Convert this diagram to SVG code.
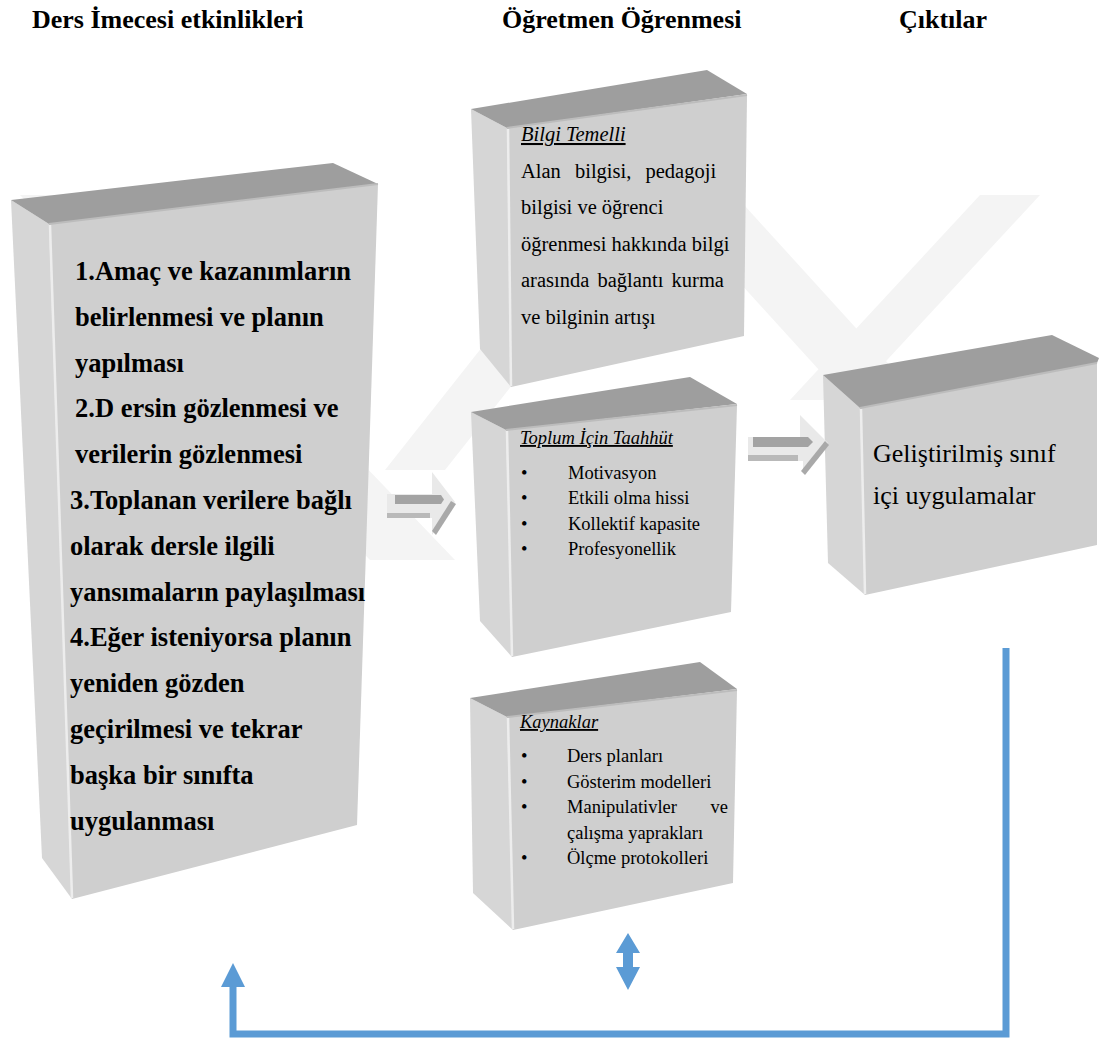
<svg xmlns="http://www.w3.org/2000/svg" width="1099" height="1041" viewBox="0 0 1099 1041">
<style>
.wm{fill:#f4f4f4}
.top{fill:#9e9e9e}
.side{fill:#d6d6d6}
.front{fill:#cfcfcf}
.hl{stroke:#ededed;stroke-width:2.5;fill:none}
.tl{stroke:#bcbcbc;stroke-width:2;fill:none}
.serif{font-family:"Liberation Serif","Times New Roman","DejaVu Serif",serif;fill:#000}
.hdr{font-weight:bold;font-size:26px}
.big{font-weight:bold;font-size:26.5px}
.t20{font-size:20.5px}
.t18{font-size:18.5px}
.t26{font-size:26px}
.ttl{font-style:italic;text-decoration:underline}
.conn{stroke:#5b9bd5;stroke-width:7;fill:none;stroke-linejoin:miter}
.blue{fill:#5b9bd5}
.ga{fill:#e9e9e9}
.gb1{fill:#a3a3a3}
.gb2{fill:#b9b9b9}
.gd{fill:#a9a9a9}
</style>
<rect width="1099" height="1041" fill="#ffffff"/>
<g id="watermark">
<polygon class="wm" points="20,195 105,195 455,560 370,560"/>
<polygon class="wm" points="385,470 445,470 690,160 630,160"/>
<polygon class="wm" points="660,195 735,195 985,470 910,470"/>
<polygon class="wm" points="790,400 850,400 1040,195 980,195"/>
</g>
<g id="headers" class="serif hdr">
<text x="32" y="28">Ders İmecesi etkinlikleri</text>
<text x="502" y="28">Öğretmen Öğrenmesi</text>
<text x="899" y="28">Çıktılar</text>
</g>
<g id="node-ders-imecesi">
<polygon class="side" points="11,200 49,224 72,899 42,858"/>
<polygon class="front" points="49,224 378,184 357,825 72,899"/>
<polygon class="top" points="11,200 333,163 378,184 49,224"/>
<polyline class="tl" points="49,224 378,184"/>
<line class="hl" x1="50" y1="225" x2="72" y2="898"/>
<g class="serif big">
<text x="75" y="280">1.Amaç ve kazanımların</text>
<text x="75" y="326">belirlenmesi ve planın</text>
<text x="75" y="372">yapılması</text>
<text x="75" y="417">2.D ersin gözlenmesi ve</text>
<text x="75" y="463">verilerin gözlenmesi</text>
<text x="70" y="509">3.Toplanan verilere bağlı</text>
<text x="70" y="555">olarak dersle ilgili</text>
<text x="70" y="601">yansımaların paylaşılması</text>
<text x="70" y="646">4.Eğer isteniyorsa planın</text>
<text x="70" y="692">yeniden gözden</text>
<text x="70" y="738">geçirilmesi ve tekrar</text>
<text x="70" y="784">başka bir sınıfta</text>
<text x="70" y="830">uygulanması</text>
</g>
</g>
<g id="node-bilgi-temelli">
<polygon class="side" points="471,109 507,128 511,387 480,349"/>
<polygon class="front" points="507,128 747,95 744,336 511,387"/>
<polygon class="top" points="471,109 707,70 747,94 507,128"/>
<polyline class="tl" points="507,128 747,95"/>
<line class="hl" x1="508" y1="129" x2="511" y2="386"/>
<g class="serif t20">
<text class="ttl" x="521" y="141">Bilgi Temelli</text>
<text x="521" y="177.5" word-spacing="9">Alan bilgisi, pedagoji</text>
<text x="521" y="214">bilgisi ve öğrenci</text>
<text x="521" y="250.5">öğrenmesi hakkında bilgi</text>
<text x="521" y="287" word-spacing="3">arasında bağlantı kurma</text>
<text x="521" y="323.5">ve bilginin artışı</text>
</g>
</g>
<g id="node-toplum">
<polygon class="side" points="471,412 506,430 512,657 480,621"/>
<polygon class="front" points="506,430 737,405 731,612 512,657"/>
<polygon class="top" points="471,412 690,377 737,404 506,430"/>
<polyline class="tl" points="506,430 737,405"/>
<line class="hl" x1="507" y1="431" x2="512" y2="656"/>
<g class="serif t18">
<text class="ttl" x="520" y="444">Toplum İçin Taahhüt</text>
<text x="521" y="479">•</text><text x="568" y="479">Motivasyon</text>
<text x="521" y="504">•</text><text x="568" y="504">Etkili olma hissi</text>
<text x="521" y="529.5">•</text><text x="568" y="529.5">Kollektif kapasite</text>
<text x="521" y="555">•</text><text x="568" y="555">Profesyonellik</text>
</g>
</g>
<g id="node-kaynaklar">
<polygon class="side" points="470,698 507,717 513,930 473,893"/>
<polygon class="front" points="507,717 737,690 733,883 513,930"/>
<polygon class="top" points="470,698 700,662 737,689 507,717"/>
<polyline class="tl" points="507,717 737,690"/>
<line class="hl" x1="508" y1="718" x2="513" y2="929"/>
<g class="serif t18">
<text class="ttl" x="520" y="728">Kaynaklar</text>
<text x="521" y="762">•</text><text x="567" y="762">Ders planları</text>
<text x="521" y="787.5">•</text><text x="567" y="787.5">Gösterim modelleri</text>
<text x="521" y="813">•</text><text x="567" y="813">Manipulativler</text><text x="728" y="813" text-anchor="end">ve</text>
<text x="567" y="838.5">çalışma yaprakları</text>
<text x="521" y="864">•</text><text x="567" y="864">Ölçme protokolleri</text>
</g>
</g>
<g id="node-ciktilar">
<polygon class="side" points="823,375 860,408 865,595 828,563"/>
<polygon class="front" points="860,408 1097,363 1097,545 865,595"/>
<polygon class="top" points="823,375 1052,335 1099,358 1097,363 860,408"/>
<polyline class="tl" points="860,408 1097,363"/>
<line class="hl" x1="861" y1="409" x2="865" y2="594"/>
<g class="serif t26">
<text x="873" y="462">Geliştirilmiş sınıf</text>
<text x="873" y="504">içi uygulamalar</text>
</g>
</g>
<g id="connectors">
<g id="arrow-left-to-middle">
<polygon class="ga" points="387,494 432,494 432,472 455,502 432,535 432,518 387,518"/>
<polygon class="gb1" points="395,495 441,495 444,499.5 441,504 395,504"/>
<polygon class="gb2" points="387,513 430,513 430,518 387,518"/>
<polygon class="gd" points="451,501 456,504 436,535 432,531"/>
</g>
<g id="arrow-middle-to-right">
<polygon class="ga" points="748,437 800,437 800,415 828,443 803,473 803,461 748,461"/>
<polygon class="gb1" points="753,437 808,437 813,442 808,447 753,447"/>
<polygon class="gb2" points="748,455 798,455 798,461 748,461"/>
<polygon class="gd" points="825,441 829,445 805,475 801,471"/>
</g>
<path class="conn" d="M1006,648 L1006,1034 L233,1034 L233,985"/>
<polygon class="blue" points="221,987 233,963 245,987"/>
<polygon class="blue" points="628,933 640,953 633,953 633,967 640,967 628,990 616,967 623,967 623,953 616,953"/>
</g>
</svg>
